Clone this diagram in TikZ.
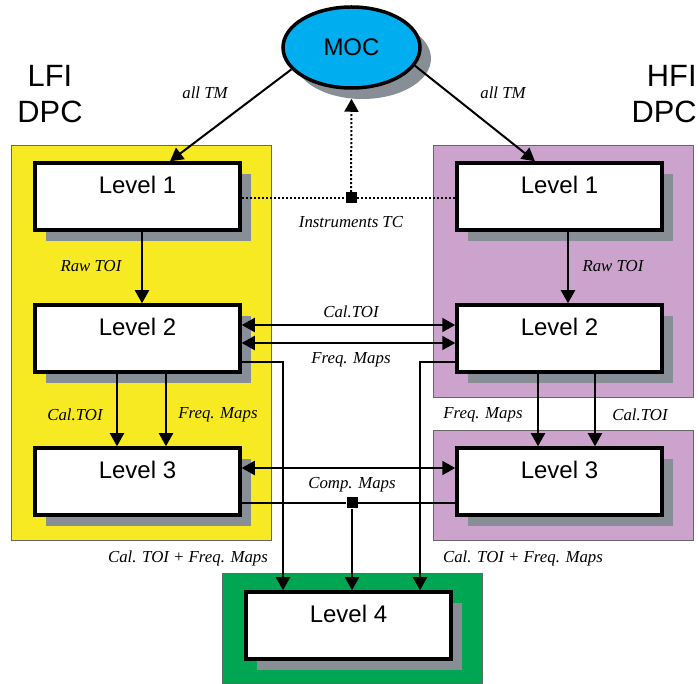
\documentclass[tikz,border=0pt]{standalone}
\usepackage{fontspec}
\setmainfont{Liberation Serif}
\setsansfont{Liberation Sans}
\usetikzlibrary{calc}
\usetikzlibrary{shapes.geometric}
\usetikzlibrary{shadows}
\usetikzlibrary{arrows.meta}
\definecolor{lfiyellow}{RGB}{247,234,34}
\definecolor{hfipurple}{RGB}{204,163,204}
\definecolor{lvlgreen}{RGB}{0,166,81}
\definecolor{mocblue}{RGB}{0,174,239}
\definecolor{shadowgray}{RGB}{135,142,150}
\tikzset{
	panel/.style={draw=black!60, line width=0.4pt},
	levelbox/.style={draw, line width=1.75pt, fill=white,
		minimum width=102.5pt, minimum height=33.5pt,
		font=\sffamily\fontsize{12}{14}\selectfont,
		text height=8.6pt, text depth=11.1pt,
		drop shadow={shadow xshift=5.5pt, shadow yshift=-5.5pt, fill=shadowgray, opacity=1}},
	flow/.style={line width=1pt, -{Triangle[length=6.5pt,width=7pt]}},
	twoway/.style={line width=1pt, {Triangle[length=6.5pt,width=7pt]}-{Triangle[length=6.5pt,width=7pt]}},
	tcline/.style={line width=1pt, dash pattern=on 1pt off 1pt},
	junction/.style={fill=black, minimum size=5.5pt, inner sep=0pt},
	flowlabel/.style={font=\itshape\fontsize{8.4}{10}\selectfont},
	dpclabel/.style={font=\sffamily\fontsize{15.4}{18}\selectfont, inner sep=0pt},
}
\begin{document}
\begin{tikzpicture}[x=0.5pt,y=-0.5pt]
	\useasboundingbox (0,0) rectangle (698,684);
	% panels
	\draw[panel,fill=lfiyellow] (11,145) rectangle (271,540);
	\draw[panel,fill=hfipurple] (433,145) rectangle (693,397);
	\draw[panel,fill=hfipurple] (433,430) rectangle (693,540);
	\draw[panel,fill=lvlgreen] (222,573) rectangle (482,683);
	\node[dpclabel,align=center] (lfi) at (50,94) {LFI\\DPC};
	\node[dpclabel,align=right,anchor=east] (hfi) at (697,94) {HFI\\DPC};
	% nodes
	\node[ellipse,draw,line width=1.75pt,fill=mocblue,minimum width=68.5pt,minimum height=40.5pt,
		font=\sffamily\fontsize{12}{14}\selectfont,
		drop shadow={shadow xshift=5.5pt, shadow yshift=-5.5pt, fill=shadowgray, opacity=1}] (moc) at (351.5,47.5) {MOC};
	\node[levelbox] (L1l) at (137.5,196.5) {Level 1};
	\node[levelbox] (L2l) at (137.5,338.5) {Level 2};
	\node[levelbox] (L3l) at (137.5,481.5) {Level 3};
	\node[levelbox] (L1r) at (559.5,196.5) {Level 1};
	\node[levelbox] (L2r) at (559.5,338.5) {Level 2};
	\node[levelbox] (L3r) at (559.5,481.5) {Level 3};
	\node[levelbox] (L4) at (348.5,625.5) {Level 4};
	\node[junction] (tc) at (351,198) {};
	\node[junction] (cm) at (352,503) {};
	% telemetry and telecommands
	\draw[flow] (moc.200) -- ($(L1l.north)+(32.5,0)$);
	\draw[flow] (moc.344) -- ($(L1r.north)+(-24.5,0)$);
	\node[flowlabel] (tml) at (205,93) {all TM};
	\node[flowlabel] (tmr) at (503,93) {all TM};
	\draw[tcline] (L1l.east |- tc) -- (tc) -- (L1r.west |- tc);
	\draw[tcline,-{Triangle[length=6.5pt,width=7pt]}] (tc) -- ($(moc.south)+(0,9)$);
	\node[flowlabel] (tcl) at (351,222) {Instruments TC};
	% level 1 -> level 2
	\draw[flow] ($(L1l.south)+(4.5,0)$) -- ($(L2l.north)+(4.5,0)$);
	\draw[flow] ($(L1r.south)+(8.5,0)$) -- ($(L2r.north)+(8.5,0)$);
	\node[flowlabel] (rawl) at (91,266) {Raw TOI};
	\node[flowlabel] (rawr) at (613,266) {Raw TOI};
	% level 2 exchange
	\draw[twoway] ($(L2l.east)+(0,-13.5)$) -- ($(L2r.west)+(0,-13.5)$);
	\draw[twoway] ($(L2l.east)+(0,4.5)$) -- ($(L2r.west)+(0,4.5)$);
	\node[flowlabel] (cal2) at (351,312) {Cal.TOI};
	\node[flowlabel] (frq2) at (351,360) {Freq. Maps};
	% level 2 -> level 3
	\draw[flow] ($(L2l.south)+(-20.5,0)$) -- ($(L3l.north)+(-20.5,0)$);
	\draw[flow] ($(L2l.south)+(28.5,0)$) -- ($(L3l.north)+(28.5,0)$);
	\draw[flow] ($(L2r.south)+(-21.5,0)$) -- ($(L3r.north)+(-21.5,0)$);
	\draw[flow] ($(L2r.south)+(35.5,0)$) -- ($(L3r.north)+(35.5,0)$);
	\node[flowlabel] (call) at (75,415) {Cal.TOI};
	\node[flowlabel] (frql) at (218,415) {Freq. Maps};
	\node[flowlabel] (frqr) at (483,415) {Freq. Maps};
	\node[flowlabel] (calr) at (640,415) {Cal.TOI};
	% level 2 -> level 4
	\draw[flow] ($(L2l.east)+(0,23.5)$) -| ($(L4.north)+(-65.5,0)$);
	\draw[flow] ($(L2r.west)+(0,23.5)$) -| ($(L4.north)+(71.5,0)$);
	% level 3 exchange and level 4
	\draw[twoway] ($(L3l.east)+(0,-13.5)$) -- ($(L3r.west)+(0,-13.5)$);
	\draw[line width=1pt] (L3l.east |- cm) -- (cm) -- (L3r.west |- cm);
	\draw[flow] (cm) -- (L4.north -| cm);
	\node[flowlabel] (cmp) at (352,485) {Comp. Maps};
	\node[flowlabel] (c4l) at (188,558) {Cal. TOI + Freq. Maps};
	\node[flowlabel] (c4r) at (523,558) {Cal. TOI + Freq. Maps};
\end{tikzpicture}
\end{document}
